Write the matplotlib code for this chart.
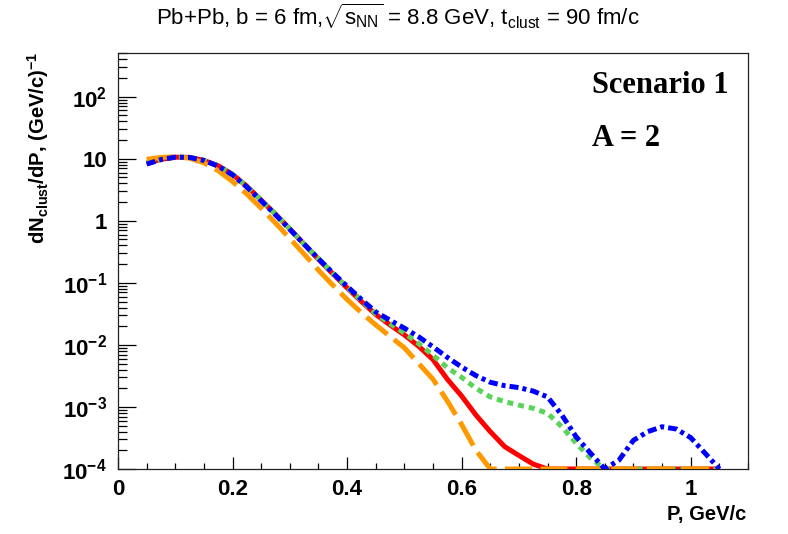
import numpy as np
import matplotlib
matplotlib.use("Agg")
import matplotlib.pyplot as plt
from matplotlib.ticker import FixedLocator, NullFormatter, MultipleLocator

plt.rcParams['font.family'] = ['Liberation Sans', 'DejaVu Sans']
plt.rcParams['mathtext.fontset'] = 'custom'
plt.rcParams['mathtext.rm'] = 'Liberation Sans'
plt.rcParams['mathtext.it'] = 'Liberation Sans:italic'
plt.rcParams['mathtext.bf'] = 'Liberation Sans:bold'
plt.rcParams['lines.scale_dashes'] = False

# ---------------- data ----------------
p = [0.05, 0.075, 0.1, 0.125, 0.15, 0.175, 0.2, 0.225, 0.25, 0.275,
     0.3, 0.325, 0.35, 0.375, 0.4, 0.425, 0.45, 0.475, 0.5, 0.525,
     0.55, 0.575, 0.6, 0.625, 0.65, 0.675, 0.7, 0.725, 0.75, 0.775,
     0.8, 0.825, 0.85, 0.875, 0.9, 0.925, 0.95, 0.975, 1.0, 1.025, 1.05]

red = [8.4, 9.8, 10.6, 10.5, 9.4, 7.7, 5.6, 3.6, 2.15, 1.28,
       0.74, 0.42, 0.24, 0.14, 0.083, 0.050, 0.031, 0.021, 0.0145, 0.0095,
       0.0058, 0.0028, 0.0015, 7.4e-4, 4.0e-4, 2.3e-4, 1.65e-4, 1.2e-4, 1.0e-4, 0,
       0, 0, 0, 0, 0, 0, 0, 0, 0, 0, 0]

green = [8.6, 9.9, 10.7, 10.5, 9.4, 7.7, 5.6, 3.6, 2.15, 1.28,
         0.74, 0.42, 0.245, 0.143, 0.085, 0.052, 0.032, 0.022, 0.0155, 0.0105,
         0.0068, 0.0043, 0.0030, 0.0020, 0.00145, 0.00122, 0.00107, 9.5e-4, 7.9e-4, 4.8e-4,
         2.6e-4, 1.5e-4, 0, 0, 0, 0, 0, 0, 0, 0, 0]

blue = [8.2, 9.7, 10.6, 10.5, 9.4, 7.6, 5.5, 3.5, 2.1, 1.25,
        0.73, 0.42, 0.245, 0.145, 0.088, 0.054, 0.034, 0.025, 0.0186, 0.0135,
        0.0093, 0.0063, 0.0044, 0.0032, 0.0025, 0.0022, 0.00205, 0.0018, 0.00145, 7.4e-4,
        3.3e-4, 1.8e-4, 1.0e-4, 1.4e-4, 2.9e-4, 4.0e-4, 4.8e-4, 4.4e-4, 3.2e-4, 1.8e-4, 1.0e-4]

orange = [9.8, 10.5, 10.8, 10.2, 8.6, 6.4, 4.3, 2.7, 1.6, 0.92,
          0.52, 0.29, 0.16, 0.092, 0.054, 0.033, 0.021, 0.0137, 0.0090, 0.0050,
          0.0028, 0.00125, 5.2e-4, 2.0e-4, 0, 0, 0, 0, 0, 0,
          0, 0, 0, 0, 0, 0, 0, 0, 0, 0, 0]

ytick_vals = [1e-4, 1e-3, 1e-2, 1e-1, 1, 10, 1e2]
ytick_labels = [r'$\mathbf{10^{-4}}$', r'$\mathbf{10^{-3}}$', r'$\mathbf{10^{-2}}$',
                r'$\mathbf{10^{-1}}$', '1', '10', r'$\mathbf{10^{2}}$']
xtick_vals = [0, 0.2, 0.4, 0.6, 0.8, 1.0]
xtick_labels = ['0', '0.2', '0.4', '0.6', '0.8', '1']

YMIN, YMAX = 1e-4, 512
XMIN, XMAX = 0.0, 1.1

# ---------------- figure ----------------
W, H = 788, 534
fig = plt.figure(figsize=(W / 100, H / 100), dpi=100)
L, R, T, B = 118, 748, 52.7, 469
ax = fig.add_axes([L / W, (H - B) / H, (R - L) / W, (B - T) / H])
ax.set_yscale('log')
ax.set_xlim(XMIN, XMAX)
ax.set_ylim(YMIN, YMAX)

lw = 3.6
def floor(v):
    return np.maximum(np.asarray(v, dtype=float), YMIN)

ax.plot(p, floor(red), color='#ff0000', lw=lw, solid_capstyle='butt', zorder=3)
ax.plot(p, floor(green), color='#5bd35b', lw=lw, dashes=(4.3, 3.6), zorder=4)
ax.plot(p, floor(orange), color='#ff9900', lw=lw, dashes=(19.5, 6), zorder=5)
ax.plot(p, floor(blue), color='#0000ff', lw=lw, dashes=(6.5, 2.9, 2.9, 2.9), zorder=6)

for s in ax.spines.values():
    s.set_linewidth(0.9)
    s.set_color('#222222')

ax.yaxis.set_major_locator(FixedLocator(ytick_vals))
ax.set_yticklabels(ytick_labels)
ax.yaxis.set_minor_locator(matplotlib.ticker.LogLocator(base=10, subs=np.arange(2, 10)))
ax.yaxis.set_minor_formatter(NullFormatter())
ax.xaxis.set_major_locator(FixedLocator(xtick_vals))
ax.set_xticklabels(xtick_labels)
ax.xaxis.set_minor_locator(MultipleLocator(0.05))

ax.tick_params(axis='y', which='major', direction='in', length=13, width=0.9,
               pad=8, labelsize=16)
ax.tick_params(axis='y', which='minor', direction='in', length=6.5, width=0.9)
ax.tick_params(axis='x', which='major', direction='in', length=9, width=0.9,
               pad=7, labelsize=16)
ax.tick_params(axis='x', which='minor', direction='in', length=4.5, width=0.9)
for lab in ax.get_xticklabels() + ax.get_yticklabels():
    lab.set_fontweight('bold')

fig.text(746 / W, 1 - 520 / H, 'P, GeV/c', ha='right', va='baseline',
         fontsize=14.5, fontweight='bold')
fig.text(38 / W, 1 - 52 / H, r'dN$_{\mathbf{clust}}$/dP, (GeV/c)$^{\mathbf{-1}}$',
         rotation=90, ha='center', va='top', fontsize=14.6, fontweight='bold')

fig.text(398 / W, 1 - 25 / H,
         r'Pb+Pb, b = 6 fm,$\sqrt{\mathrm{s}_{\mathrm{NN}}}$ = 8.8 GeV, t$_{\mathrm{clust}}$ = 90 fm/c',
         ha='center', va='baseline', fontsize=16)

fig.text(592 / W, 1 - 93 / H, 'Scenario 1', ha='left', va='baseline',
         fontsize=22, fontweight='bold', family='Liberation Serif')
fig.text(592 / W, 1 - 146 / H, 'A = 2', ha='left', va='baseline',
         fontsize=22, fontweight='bold', family='Liberation Serif')

fig.savefig('out.png', dpi=100)
